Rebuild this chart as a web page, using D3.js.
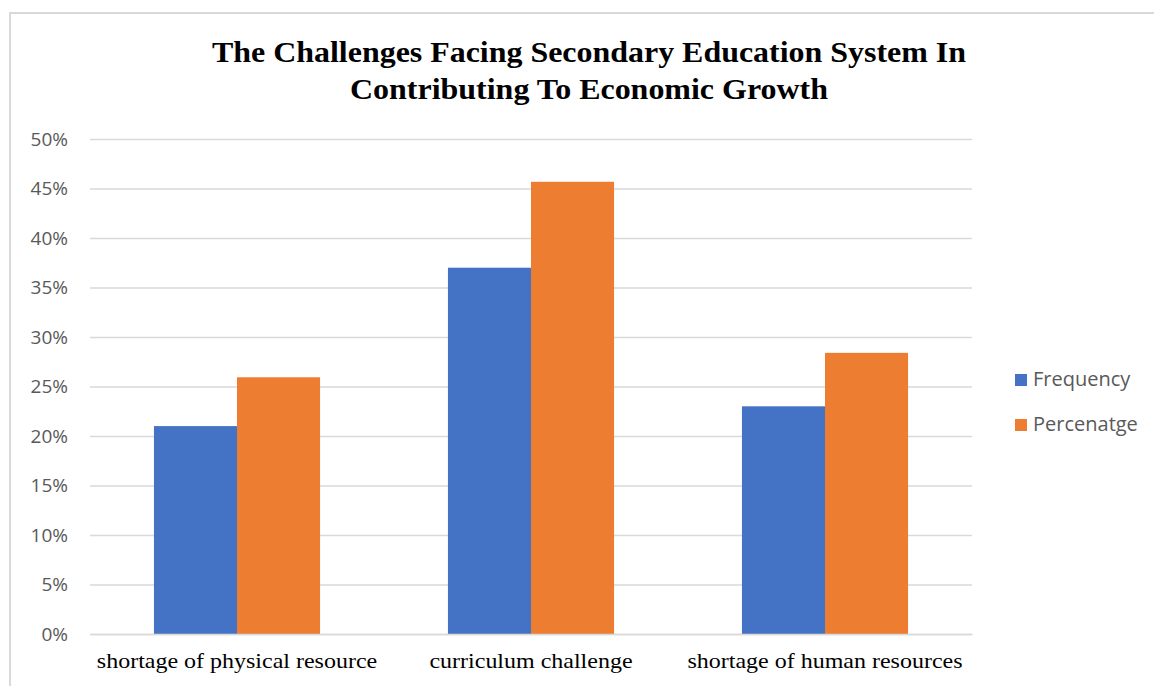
<!DOCTYPE html>
<html>
<head>
<meta charset="utf-8">
<script src="https://cdn.jsdelivr.net/npm/d3@7"></script>
<style>
  body { margin: 0; background: #fff; }
</style>
</head>
<body>
<svg id="chart" width="1154" height="686"></svg>
<script>
const categories = ["shortage of physical resource", "curriculum challenge", "shortage of human resources"];
const seriesNames = ["Frequency", "Percenatge"];
const frequency = [21, 37, 23];
const percentage = [25.93, 45.68, 28.40];
const yTicks = [0, 5, 10, 15, 20, 25, 30, 35, 40, 45, 50];
const colors = ["#4472c4", "#ed7d31"];

const svg = d3.select("#chart");
const margin = { top: 139, left: 90, right: 182, bottom: 52 };
const width = 1154 - margin.left - margin.right,
      height = 686 - margin.top - margin.bottom;

// chart border
svg.append("path")
    .attr("d", "M10,686 L10,13 L1154,13")
    .attr("fill", "none")
    .attr("stroke", "#d9d9d9")
    .attr("stroke-width", 2);

// title (the original uses a narrow, tall serif so stretch a bit)
const title = svg.append("text")
    .attr("text-anchor", "middle")
    .style("font-family", "'Liberation Serif', 'Times New Roman', serif")
    .style("font-weight", "bold")
    .style("font-size", "30px")
    .attr("fill", "#000");
title.append("tspan").attr("x", 589).attr("y", 62)
    .attr("textLength", 754).attr("lengthAdjust", "spacingAndGlyphs")
    .text("The Challenges Facing Secondary Education System In");
title.append("tspan").attr("x", 589).attr("y", 99)
    .attr("textLength", 478).attr("lengthAdjust", "spacingAndGlyphs")
    .text("Contributing To Economic Growth");

const chart = svg.append("g")
    .attr("transform", `translate(${margin.left},${margin.top})`);

const x0 = d3.scaleBand().domain(categories).range([0, width]).paddingInner(0.435).paddingOuter(0.2175);
const x1 = d3.scaleBand().domain(seriesNames).range([0, x0.bandwidth()]);
const y = d3.scaleLinear().domain([0, 50]).range([height, 0]);

// gridlines
chart.append("g")
    .call(d3.axisLeft(y).tickValues(yTicks).tickSize(-width).tickFormat(""))
    .call(g => g.select(".domain").remove())
    .selectAll("line")
    .attr("stroke", "#d9d9d9")
    .attr("stroke-width", 1.5);

// y axis labels
chart.append("g")
    .attr("transform", "translate(-19,0)")
    .call(d3.axisLeft(y).tickValues(yTicks).tickSize(0).tickFormat(d => d + "%"))
    .call(g => g.select(".domain").remove())
    .selectAll("text")
    .attr("fill", "#595959")
    .style("font-family", "'Open Sans', 'Liberation Sans', sans-serif")
    .style("font-size", "19px");

// bars
const rows = categories.map((c, i) => ({ cat: c, vals: [frequency[i], percentage[i]] }));
chart.selectAll("g.grp")
    .data(rows)
    .enter()
    .append("g")
    .attr("class", "grp")
    .attr("transform", d => `translate(${x0(d.cat)},0)`)
    .selectAll("rect")
    .data(d => d.vals.map((v, j) => ({ key: seriesNames[j], v: v, j: j })))
    .enter()
    .append("rect")
    .attr("x", d => x1(d.key))
    .attr("y", d => y(d.v))
    .attr("width", x1.bandwidth())
    .attr("height", d => height - y(d.v))
    .attr("fill", d => colors[d.j]);

// x axis labels
chart.append("g")
    .attr("transform", `translate(0,${height})`)
    .call(d3.axisBottom(x0).tickSize(0).tickPadding(18))
    .call(g => g.select(".domain").attr("stroke", "#d9d9d9").attr("stroke-width", 1.5))
    .selectAll("text")
    .attr("fill", "#000")
    .style("font-family", "'Liberation Serif', 'Times New Roman', serif")
    .style("font-size", "22px")
    .each(function() {
        const w = this.getComputedTextLength();
        d3.select(this).attr("textLength", w * 1.09).attr("lengthAdjust", "spacingAndGlyphs");
    });

// legend
const legend = svg.append("g").attr("transform", "translate(1015,372)");
seriesNames.forEach((s, i) => {
    const row = legend.append("g").attr("transform", `translate(0,${i * 45})`);
    row.append("rect").attr("width", 12).attr("height", 12).attr("y", 2).attr("fill", colors[i]);
    row.append("text")
        .attr("x", 18)
        .attr("y", 14)
        .attr("fill", "#595959")
        .style("font-family", "'Open Sans', 'Liberation Sans', sans-serif")
        .style("font-size", "20px")
        .text(s);
});
</script>
</body>
</html>
